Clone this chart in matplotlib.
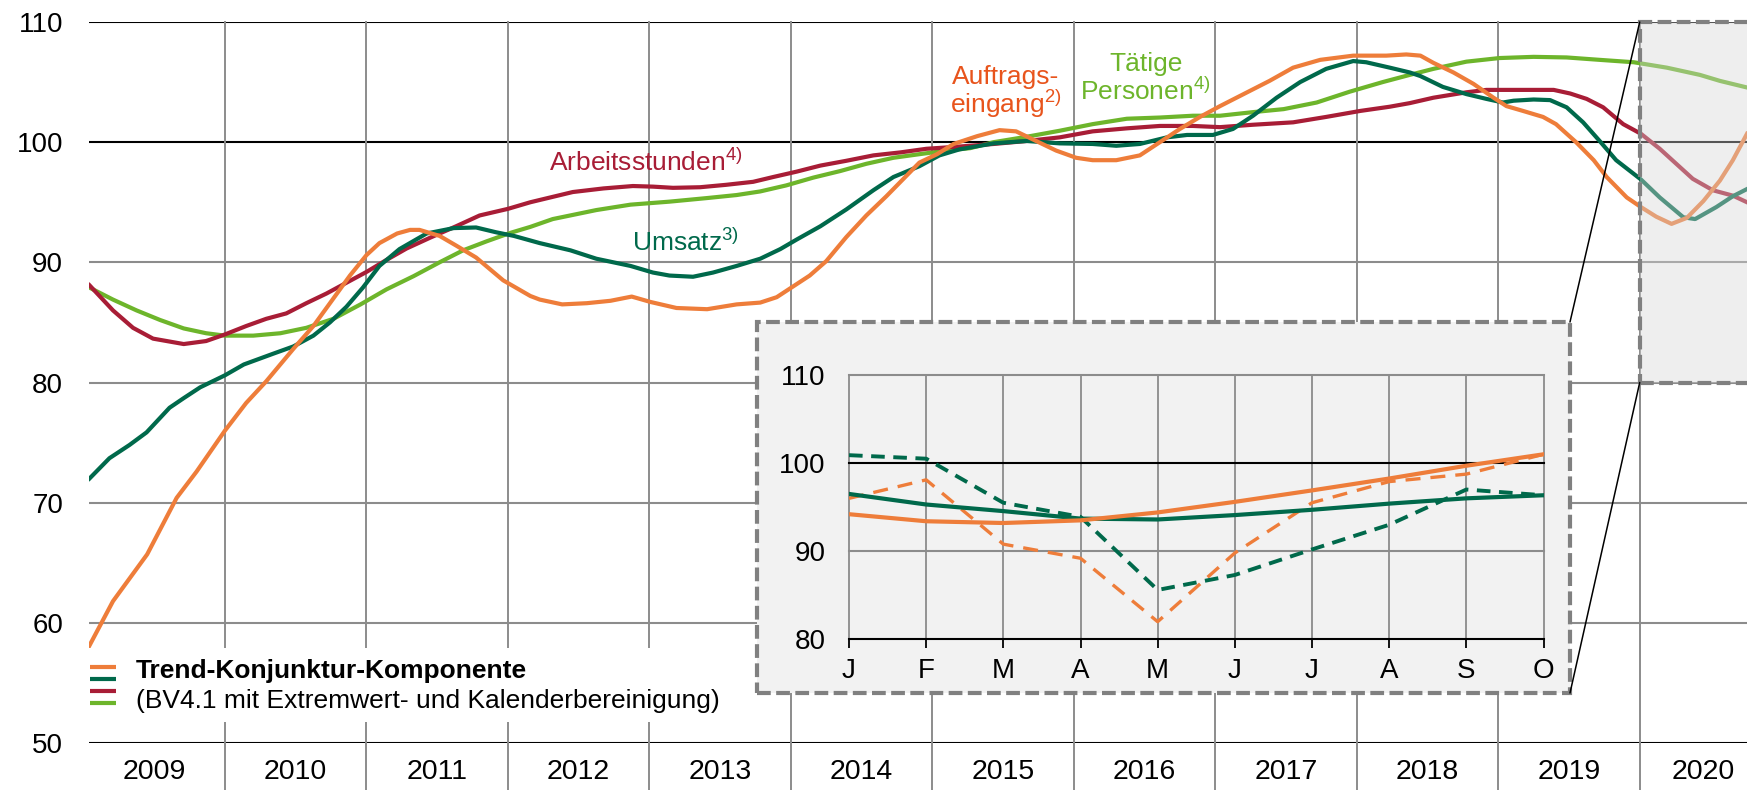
import matplotlib
matplotlib.use('Agg')
from matplotlib import pyplot as plt
from matplotlib.patches import Rectangle, ConnectionPatch
from matplotlib.lines import Line2D

plt.rcParams['font.family'] = ['Liberation Sans', 'DejaVu Sans']
plt.rcParams['mathtext.fontset'] = 'custom'
plt.rcParams['mathtext.rm'] = 'Liberation Sans'
plt.rcParams['mathtext.it'] = 'Liberation Sans'

# colours
ORANGE = '#EE7D3A'
DGREEN = '#00694B'
RED = '#A81D36'
LGREEN = '#6DB52B'
LABEL_ORANGE = '#E8541C'
GRID = '#8C8C8C'

# ---- data: months since Jan 2009, index values (2015 = 100) ----
years = [str(y) for y in range(2009, 2021)]

auftrag_m = [0, 2.0, 4.9, 7.4, 9.1, 11.5, 13.3, 15.0, 17.3, 19.0, 20.7, 22.1, 23.5, 24.6, 26.1,
             27.2, 28.0, 29.7, 31.1, 32.8, 35.1, 37.4, 38.2, 40.1, 42.2, 44.2, 46.0, 47.6, 49.8,
             52.4, 54.9, 56.9, 58.3, 59.7, 61.1, 62.5, 64.2, 65.9, 67.6, 69.0, 70.4, 71.9, 73.3,
             75.3, 77.2, 78.6, 80.3, 82.0, 83.7, 85.1, 87.1, 89.1, 90.8, 92.5, 94.2, 95.9, 97.9,
             100.1, 102.1, 104.4, 107.2, 110.0, 111.7, 112.9, 114.0, 115.7, 117.4, 119.1, 120.2,
             121.6, 123.3, 124.4, 126.1, 127.6, 128.7, 130.4, 131.6, 132.9, 134.2, 135.5, 136.9,
             138.3, 139.4, 140.6]
auftrag_v = [58.1, 61.8, 65.7, 70.4, 72.6, 76.0, 78.3, 80.1, 82.8, 84.7, 87.0, 88.9, 90.6, 91.6, 92.4,
             92.7, 92.7, 92.2, 91.4, 90.4, 88.5, 87.2, 86.9, 86.5, 86.6, 86.8, 87.15, 86.7, 86.2,
             86.1, 86.5, 86.65, 87.1, 88.0, 88.9, 90.1, 92.1, 93.9, 95.5, 96.9, 98.3, 99.0, 99.85,
             100.5, 101.0, 100.9, 100.1, 99.3, 98.7, 98.5, 98.5, 98.9, 100.0, 101.1, 102.1, 103.0, 104.0,
             105.1, 106.2, 106.85, 107.2, 107.2, 107.3, 107.2, 106.6, 105.8, 104.85, 103.7, 103.0,
             102.6, 102.1, 101.5, 100.0, 98.5, 97.1, 95.4, 94.6, 93.8, 93.2, 93.7, 95.1,
             96.8, 98.5, 100.7]

umsatz_m = [0, 1.7, 3.4, 4.85, 6.8, 8.0, 9.4, 11.5, 13.1, 15.6, 17.3, 19.0, 20.4, 21.8, 23.2, 24.6,
            26.3, 28.6, 30.9, 32.8, 34.5, 36.0, 38.2, 40.8, 43.0, 45.9, 47.8, 49.2, 51.2, 52.9, 54.9,
            56.9, 58.6, 60.0, 62.0, 64.2, 66.5, 68.2, 70.4, 72.1, 73.8, 76.7, 79.5, 82.3, 85.1, 87.1,
            89.1, 91.4, 93.1, 95.3, 97.0, 98.7, 100.7, 102.7, 104.9, 107.2, 108.3, 110.3, 112.0,
            112.9, 114.8, 116.8, 118.5, 119.9, 120.8, 122.5, 123.9, 125.3, 126.7, 128.1, 129.5,
            131.6, 133.2, 135.2, 136.2, 138.0, 139.4, 140.6]
umsatz_v = [72.0, 73.7, 74.8, 75.85, 77.9, 78.7, 79.6, 80.6, 81.5, 82.4, 83.0, 83.9, 85.0, 86.3, 87.9, 89.7,
            91.1, 92.4, 92.85, 92.9, 92.5, 92.2, 91.6, 91.0, 90.3, 89.7, 89.15, 88.9, 88.8, 89.15, 89.7,
            90.3, 91.1, 91.9, 93.0, 94.4, 96.0, 97.1, 98.0, 98.9, 99.4, 99.9, 100.1, 99.9, 99.85, 99.7,
            99.85, 100.4, 100.6, 100.6, 101.1, 102.2, 103.7, 105.0, 106.1, 106.75, 106.65, 106.2, 105.8,
            105.5, 104.6, 104.0, 103.6, 103.3, 103.45, 103.55, 103.5, 102.9, 101.65, 100.1, 98.5,
            96.9, 95.4, 93.75, 93.6, 94.6, 95.5, 96.1]

stunden_m = [0, 2.0, 3.7, 5.4, 8.0, 9.9, 11.5, 13.3, 15.0, 16.7, 18.4, 20.1, 21.8, 23.5, 25.2, 26.9,
             28.9, 31.1, 33.1, 35.5, 37.4, 41.0, 43.6, 46.1, 47.8, 49.5, 51.8, 54.0, 56.3, 58.0, 60.0,
             62.0, 64.2, 66.5, 68.8, 71.0, 73.3, 76.7, 79.5, 82.3, 85.1, 88.0, 90.8, 93.6, 95.9, 98.7,
             102.1, 104.9, 107.8, 110.3, 112.0, 114.0, 116.8, 118.5, 121.0, 124.2, 125.6, 127.0,
             128.4, 130.1, 131.6, 133.2, 134.6, 136.0, 137.7, 139.4, 140.6]
stunden_v = [88.1, 86.0, 84.55, 83.65, 83.2, 83.45, 84.0, 84.7, 85.3, 85.75, 86.6, 87.4, 88.3, 89.2, 90.2, 91.15,
             92.05, 93.0, 93.9, 94.45, 95.0, 95.85, 96.15, 96.35, 96.3, 96.2, 96.25, 96.45, 96.7, 97.1, 97.55,
             98.05, 98.45, 98.9, 99.15, 99.45, 99.6, 99.85, 100.1, 100.4, 100.9, 101.15, 101.35, 101.35, 101.25, 101.45,
             101.65, 102.1, 102.6, 102.95, 103.25, 103.7, 104.15, 104.35, 104.35, 104.35, 104.05, 103.6,
             102.9, 101.5, 100.7, 99.45, 98.2, 96.95, 96.0, 95.55, 95.0]

personen_m = [0, 2.0, 4.0, 6.0, 8.0, 9.9, 11.5, 13.9, 16.2, 18.4, 20.7, 23.0, 25.2, 27.5, 29.7, 31.7,
              33.7, 35.7, 37.4, 39.3, 43.0, 45.9, 49.2, 52.4, 54.9, 56.9, 59.1, 61.4, 63.7, 65.9, 68.2,
              70.4, 72.7, 74.7, 76.7, 79.5, 82.3, 85.1, 88.0, 90.8, 93.6, 95.9, 98.7, 101.3, 104.1,
              106.9, 109.7, 112.0, 114.0, 116.8, 119.6, 122.5, 125.3, 128.1, 131.0, 133.8, 136.6,
              138.3, 140.6]
personen_v = [87.9, 86.9, 86.0, 85.2, 84.5, 84.1, 83.9, 83.9, 84.1, 84.55, 85.3, 86.5, 87.75, 88.85, 90.0, 91.0,
              91.75, 92.45, 92.95, 93.6, 94.35, 94.8, 95.05, 95.35, 95.6, 95.9, 96.4, 97.05, 97.6, 98.2, 98.7,
              99.0, 99.3, 99.5, 100.0, 100.45, 100.95, 101.5, 101.95, 102.05, 102.2, 102.2, 102.5, 102.75, 103.3,
              104.2, 105.0, 105.6, 106.1, 106.7, 107.0, 107.1, 107.05, 106.85, 106.65, 106.2, 105.6,
              105.1, 104.55]

# inset: 2020, Jan - Oct
inset_months = ['J', 'F', 'M', 'A', 'M', 'J', 'J', 'A', 'S', 'O']
inset_auftrag_trend = [94.2, 93.4, 93.2, 93.5, 94.4, 95.6, 96.9, 98.25, 99.7, 101.0]
inset_umsatz_trend = [96.5, 95.3, 94.55, 93.7, 93.6, 94.1, 94.7, 95.4, 96.0, 96.35]
inset_auftrag_orig = [96.0, 98.1, 90.8, 89.2, 82.0, 89.8, 95.5, 97.9, 98.75, 101.0]
inset_umsatz_orig = [100.9, 100.5, 95.5, 93.9, 85.6, 87.3, 90.2, 93.0, 97.0, 96.35]

W, H = 1747, 790
fig = plt.figure(figsize=(W / 100, H / 100), dpi=100)


def fx(px):
    return px / W


def fy(py):
    return 1 - py / H


# ---------------- main chart ----------------
ax = fig.add_axes([fx(89.4), fy(743), 1 - fx(89.4), (743 - 22) / H])
ax.set_zorder(0)
x_max = 140.6
ax.set_xlim(0, x_max)
ax.set_ylim(50, 110)
for s in ax.spines.values():
    s.set_visible(False)
ax.set_xticks([])
ax.set_yticks(range(50, 111, 10))
ax.tick_params(axis='y', length=0, pad=19, labelsize=20)

for yv in range(50, 111, 10):
    black = yv in (50, 100, 110)
    ax.axhline(yv, color='black' if black else GRID, lw=1.5, zorder=1)

bounds = [11.5 + 12 * k for k in range(11)]
for b in bounds:
    ax.axvline(b, ymin=-0.07, ymax=1, color=GRID, lw=1.4, zorder=1, clip_on=False)

centers = [5.5 + 12 * k for k in range(len(years))]
centers[-1] = 136.9  # last year is only partly shown
for c, yr in zip(centers, years):
    ax.text(c, -0.04, yr, transform=ax.get_xaxis_transform(), ha='center', va='center', fontsize=20.5)

ax.plot(personen_m, personen_v, color=LGREEN, lw=3, zorder=3)
ax.plot(stunden_m, stunden_v, color=RED, lw=3, zorder=3)
ax.plot(umsatz_m, umsatz_v, color=DGREEN, lw=3, zorder=3)
ax.plot(auftrag_m, auftrag_v, color=ORANGE, lw=3, zorder=3)

ax.text(39.0, 97.63, r'Arbeitsstunden$^{4)}$', color=RED, fontsize=19, ha='left', va='baseline', zorder=4)
ax.text(46.0, 90.96, r'Umsatz$^{3)}$', color=DGREEN, fontsize=19, ha='left', va='baseline', zorder=4)
ax.text(77.7, 104.85, 'Auftrags-', color=LABEL_ORANGE, fontsize=19, ha='center', va='baseline', zorder=4)
ax.text(77.7, 102.46, r'eingang$^{2)}$', color=LABEL_ORANGE, fontsize=19, ha='center', va='baseline', zorder=4)
ax.text(89.6, 105.96, 'Tätige', color=LGREEN, fontsize=19, ha='center', va='baseline', zorder=4)
ax.text(89.6, 103.54, r'Personen$^{4)}$', color=LGREEN, fontsize=19, ha='center', va='baseline', zorder=4)

# zoom box over 2020
ax.add_patch(Rectangle((131.5, 80), 12, 30, facecolor='#d6d6d6', alpha=0.4, edgecolor='none', zorder=5))
ax.add_patch(Rectangle((131.5, 80), 12, 30, fill=False, edgecolor='#808080', lw=3,
                       linestyle=(0, (3.3, 1.3)), zorder=6, clip_on=False))

# ---------------- legend ----------------
fig.add_artist(Rectangle((fx(88), fy(722)), fx(740) - fx(88), (722 - 648) / H,
                         transform=fig.transFigure, facecolor='white', edgecolor='none', zorder=1.5))
for col, yp in zip([ORANGE, DGREEN, RED, LGREEN], [667, 678.5, 691, 703]):
    fig.add_artist(Line2D([fx(90), fx(116)], [fy(yp), fy(yp)], color=col, lw=3, zorder=2,
                          solid_capstyle='butt'))
fig.text(fx(136), fy(678), 'Trend-Konjunktur-Komponente', fontsize=19, fontweight='bold',
         ha='left', va='baseline', zorder=2)
fig.text(fx(136), fy(708), '(BV4.1 mit Extremwert- und Kalenderbereinigung)', fontsize=19,
         ha='left', va='baseline', zorder=2)

# ---------------- inset ----------------
box_l, box_r, box_t, box_b = 757, 1570, 322, 693
fig.add_artist(Rectangle((fx(box_l), fy(box_b)), fx(box_r) - fx(box_l), (box_b - box_t) / H,
                         transform=fig.transFigure, facecolor='#f2f2f2', edgecolor='#808080', lw=3,
                         linestyle=(0, (3.3, 1.3)), zorder=2))

ax2 = fig.add_axes([fx(849), fy(639.3), fx(1543.5) - fx(849), (639.3 - 375) / H])
ax2.set_zorder(3)
ax2.set_facecolor('#f2f2f2')
for s in ax2.spines.values():
    s.set_visible(False)
ax2.set_xlim(0, len(inset_months) - 1)
ax2.set_ylim(80, 110)
ax2.set_xticks(range(len(inset_months)))
ax2.set_xticklabels(inset_months)
ax2.set_yticks([80, 90, 100, 110])
ax2.tick_params(axis='x', length=6.5, width=1.3, color='black', pad=7, labelsize=20)
ax2.tick_params(axis='y', length=0, pad=17, labelsize=20)
for i in range(len(inset_months)):
    ax2.axvline(i, color=GRID, lw=1.3, zorder=1, clip_on=False)
for yv in (80, 90, 100, 110):
    ax2.axhline(yv, color='black' if yv in (80, 100) else GRID, lw=1.5, zorder=1, clip_on=False)

xi = range(len(inset_months))
ax2.plot(xi, inset_auftrag_orig, color=ORANGE, lw=2.4, linestyle=(0, (4.5, 3)), zorder=3)
ax2.plot(xi, inset_umsatz_orig, color=DGREEN, lw=2.8, linestyle=(0, (3.5, 2.2)), zorder=3)
ax2.plot(xi, inset_umsatz_trend, color=DGREEN, lw=3, zorder=4)
ax2.plot(xi, inset_auftrag_trend, color=ORANGE, lw=3, zorder=4)

# connector lines from the zoom box to the inset
for yA, yB in [(110, box_t), (80, box_b)]:
    con = ConnectionPatch(xyA=(131.5, yA), coordsA=ax.transData,
                          xyB=(fx(box_r), fy(yB)), coordsB=fig.transFigure,
                          color='black', lw=1.1, zorder=4)
    fig.add_artist(con)

fig.savefig('out.png', dpi=100, facecolor='white')
